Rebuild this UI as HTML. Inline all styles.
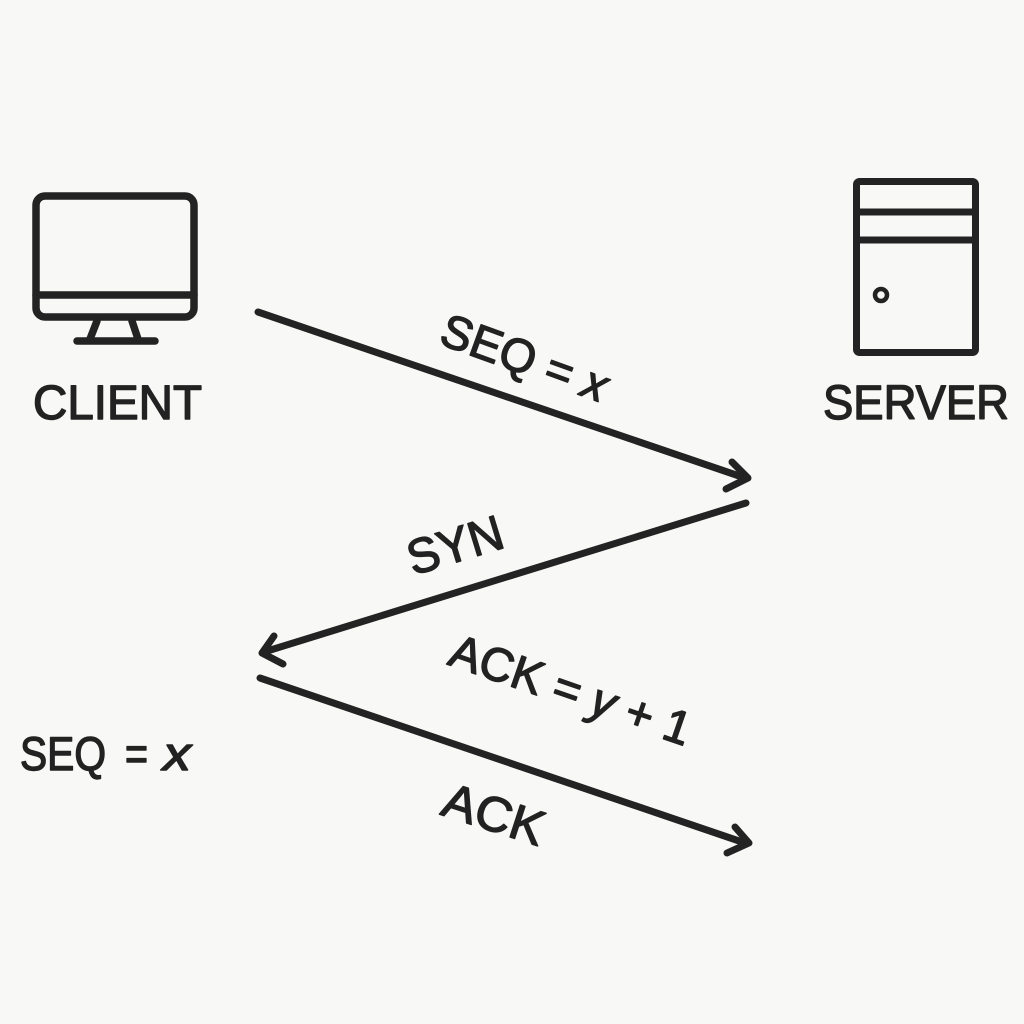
<!DOCTYPE html>
<html>
<head>
<meta charset="utf-8">
<style>
  html,body{margin:0;padding:0;background:#f8f8f6;}
  svg{display:block;}
  text{font-family:"Liberation Sans", Arial, sans-serif;fill:#222;stroke:#222;stroke-width:1.4;stroke-linejoin:round;}
</style>
</head>
<body>
<svg width="1024" height="1024" viewBox="0 0 1024 1024" xmlns="http://www.w3.org/2000/svg">
  <rect width="1024" height="1024" fill="#f8f8f6"/>

  <!-- Client monitor -->
  <g fill="none" stroke="#232323" stroke-width="7.5" stroke-linecap="round" stroke-linejoin="round">
    <rect x="36" y="196" width="158" height="121" rx="9"/>
    <line x1="36" y1="295" x2="194" y2="295"/>
    <line x1="97" y1="321" x2="90" y2="339"/>
    <line x1="132" y1="321" x2="138" y2="339"/>
    <line x1="77" y1="341" x2="155" y2="341"/>
  </g>
  <text x="33" y="419" font-size="48" textLength="169" lengthAdjust="spacingAndGlyphs">CLIENT</text>

  <!-- Server tower -->
  <g fill="none" stroke="#232323" stroke-width="7" stroke-linejoin="round">
    <rect x="856.5" y="181.5" width="119" height="171" rx="3"/>
    <line x1="856" y1="212" x2="976" y2="212"/>
    <line x1="856" y1="240" x2="976" y2="240"/>
    <circle cx="881" cy="295" r="6" stroke-width="4.5"/>
  </g>
  <text x="823" y="419" font-size="48" textLength="186" lengthAdjust="spacingAndGlyphs">SERVER</text>

  <!-- Arrows -->
  <g fill="none" stroke="#232323" stroke-width="7" stroke-linecap="round" stroke-linejoin="round">
    <line x1="258" y1="312" x2="745" y2="478"/>
    <polyline points="732,462 748,478 726,489"/>

    <line x1="746" y1="503" x2="264" y2="652"/>
    <polyline points="274,636 262,653 283,664"/>

    <line x1="260" y1="678" x2="745" y2="843"/>
    <polyline points="735,827 749,843 727,853"/>
  </g>

  <!-- Arrow labels -->
  <g transform="translate(525,357) rotate(20)">
    <text x="0" y="17" font-size="47" text-anchor="middle" textLength="174" lengthAdjust="spacingAndGlyphs">SEQ = <tspan font-style="italic">x</tspan></text>
  </g>
  <g transform="translate(455,545) rotate(-17)">
    <text x="0" y="17" font-size="49" text-anchor="middle" textLength="98" lengthAdjust="spacingAndGlyphs">SYN</text>
  </g>
  <g transform="translate(571,689) rotate(19)">
    <text x="0" y="17" font-size="47" text-anchor="middle" textLength="252" lengthAdjust="spacingAndGlyphs">ACK = <tspan font-style="italic">y</tspan> + 1</text>
  </g>
  <g transform="translate(494,814) rotate(18)">
    <text x="0" y="17" font-size="49" text-anchor="middle" textLength="104" lengthAdjust="spacingAndGlyphs">ACK</text>
  </g>

  <!-- Left SEQ label -->
  <text x="20" y="770" font-size="47" textLength="86" lengthAdjust="spacingAndGlyphs">SEQ</text>
  <text x="125" y="770" font-size="47" textLength="23" lengthAdjust="spacingAndGlyphs">=</text>
  <text x="163" y="770" font-size="47" font-style="italic" textLength="28" lengthAdjust="spacingAndGlyphs">x</text>
</svg>
</body>
</html>
